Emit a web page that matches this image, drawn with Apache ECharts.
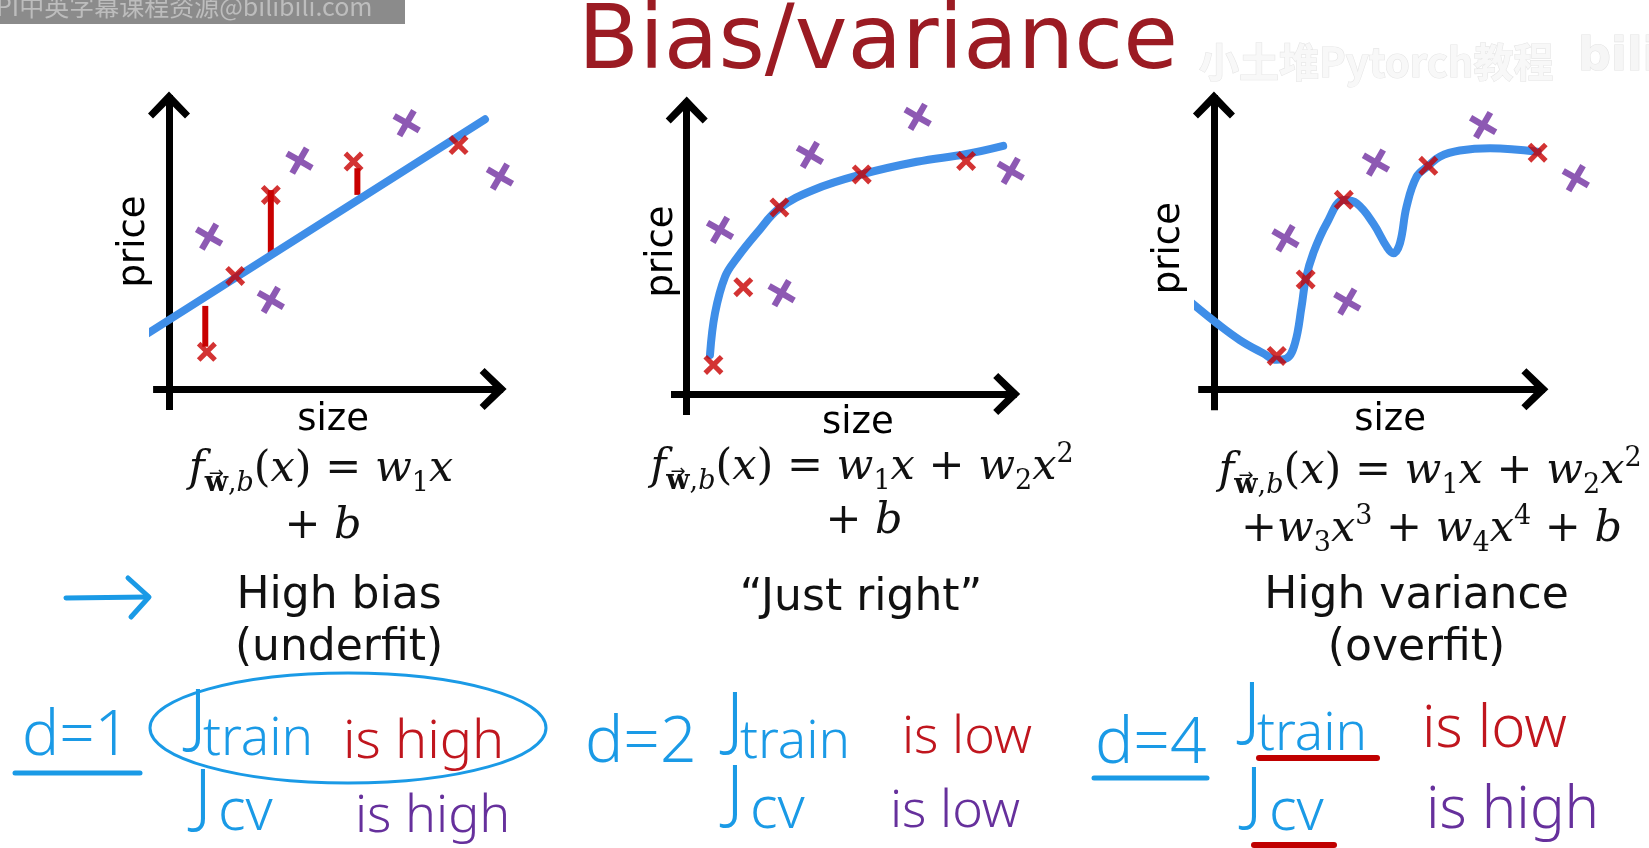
<!DOCTYPE html>
<html><head><meta charset="utf-8">
<script src="https://cdn.jsdelivr.net/npm/echarts@6/dist/echarts.min.js"></script>
<style>html,body{margin:0;padding:0;background:#fff}#c{width:1649px;height:848px}</style>
</head><body><div id="c"></div>
<script>
// ---------------- data (arbitrary units: size / price) ----------------
const p1Train = [[1.19,1.24],[2.08,3.77],[3.2,6.47],[5.8,7.58],[9.1,8.13]];
const p1Cv    = [[1.26,5.08],[3.2,2.97],[4.1,7.61],[7.47,8.86],[10.4,7.08]];
const p1Fit   = [[-0.91,1.69],[9.93,8.99]];
const p1Residuals = [[1.14,2.77,1.41],[3.2,6.63,4.47],[5.92,7.36,6.47]]; // [size, from, to]

const p2Train = [[0.85,0.97],[1.8,3.56],[2.95,6.22],[5.57,7.32],[8.89,7.77]];
const p2Cv    = [[1.06,5.47],[3.02,3.36],[3.92,7.97],[7.35,9.24],[10.31,7.44]];
const p2Fit   = [[0.74,1.3],[0.9,2.69],[1.22,3.91],[1.59,4.52],[2.23,5.36],[2.95,6.19],[4.03,6.8],[5.57,7.32],[7.32,7.74],[8.91,8.0],[10.07,8.27]];

const p3Train = [[1.99,1.11],[2.91,3.66],[4.12,6.31],[6.8,7.44],[10.27,7.88]];
const p3Cv    = [[2.27,5.03],[4.23,2.92],[5.14,7.55],[8.54,8.8],[11.48,7.03]];
const p3Fit   = [[-0.71,2.88],[0.09,2.2],[0.82,1.64],[1.56,1.2],[1.99,0.98],[2.31,1.03],[2.57,1.53],[2.78,2.75],[2.91,3.66],[3.15,4.53],[3.58,5.53],[4.12,6.3],[4.53,6.19],[5.05,5.53],[5.48,4.75],[5.69,4.53],[5.9,4.86],[6.11,6.08],[6.43,7.08],[6.8,7.44],[7.17,7.75],[7.8,7.95],[8.76,8.03],[10.27,7.91]];

const axisRangeX = [-0.5, 10.5];
const axisRangeY = [-0.7, 9.8];

const titleText = 'Bias/variance';
const xName = 'size', yName = 'price';
const captions = [['High bias','(underfit)'],['\u201CJust right\u201D'],['High variance','(overfit)']];
const fHead = [['i','f'],['vb','w'],['sv',','],['si','b'],['n','('],['i','x'],['n',') = '],['i','w'],['sv','1'],['i','x']];
const fSq = [['n',' + '],['i','w'],['sv','2'],['i','x'],['sp','2']];
const formulas = [
  [fHead, [['n','+ '],['i','b']]],
  [fHead.concat(fSq), [['n','+ '],['i','b']]],
  [fHead.concat(fSq), [['n','+'],['i','w'],['sv','3'],['i','x'],['sp','3'],['n',' + '],['i','w'],['sv','4'],['i','x'],['sp','4'],['n',' + '],['i','b']]]
];
const notes = [
  {d:'d=1', train:'is high', cv:'is high'},
  {d:'d=2', train:'is low',  cv:'is low'},
  {d:'d=4', train:'is low',  cv:'is high'}
];

// ---------------- styles / layout ----------------
const FONT_SANS = '"DejaVu Sans", Verdana, sans-serif';
const FONT_MATH = '"DejaVu Serif", serif';
const FONT_HAND = '"Noto Sans", sans-serif';
const FIT_BLUE = '#3f8ee8', MARK_RED = '#c80000', MARK_PURPLE = '#7030a0';
const INK_BLUE = '#1a9ae6', INK_RED = '#c0161e', INK_PURPLE = '#66309c';
const X_PATH = 'path://M0,1.8L1.8,0L5,3.2L8.2,0L10,1.8L6.8,5L10,8.2L8.2,10L5,6.8L1.8,10L0,8.2L3.2,5Z';
const ARROW_PATH = 'path://M21,0L42,22L37,27L21,11L5,27L0,22Z';

const panels = [
  {grid:{left:153.1, top:95, width:350, height:315}, xPad:10, xGap:-8, yPad:22, yGap:0, train:p1Train, cv:p1Cv, fit:p1Fit, smooth:false, residuals:p1Residuals},
  {grid:{left:671, top:100, width:345.7, height:315}, xPad:28, xGap:-10, yPad:12, yGap:-10, train:p2Train, cv:p2Cv, fit:p2Fit, smooth:0.4},
  {grid:{left:1198.2, top:95, width:346.7, height:315.3}, xPad:37, xGap:-8, yPad:9, yGap:10, train:p3Train, cv:p3Cv, fit:p3Fit, smooth:0.4}
];

const axisLine = {
  show:true, onZero:true,
  symbol:['none', ARROW_PATH], symbolSize:[42,27], symbolOffset:[0,-10],
  lineStyle:{color:'#000', width:7, cap:'butt'}
};
const nameStyle = pad => ({fontFamily:FONT_SANS, fontSize:37, color:'#000', padding:[0,0,0,pad]});

const grids = [], xAxes = [], yAxes = [], series = [];
panels.forEach((p, i) => {
  grids.push(Object.assign({containLabel:false}, p.grid));
  xAxes.push({type:'value', gridIndex:i, min:axisRangeX[0], max:axisRangeX[1],
    axisLine, axisTick:{show:false}, axisLabel:{show:false}, splitLine:{show:false},
    name:xName, nameLocation:'middle', nameGap:p.xGap, nameTextStyle:nameStyle(p.xPad)});
  yAxes.push({type:'value', gridIndex:i, min:axisRangeY[0], max:axisRangeY[1],
    axisLine, axisTick:{show:false}, axisLabel:{show:false}, splitLine:{show:false},
    name:yName, nameLocation:'middle', nameGap:p.yGap, nameTextStyle:nameStyle(p.yPad)});
  (p.residuals || []).forEach(r => {
    series.push({type:'line', xAxisIndex:i, yAxisIndex:i, data:[[r[0], r[1]],[r[0], r[2]]],
      symbol:'none', clip:false, silent:true, z:2,
      lineStyle:{color:MARK_RED, width:6, cap:'butt'}});
  });
  series.push({type:'line', xAxisIndex:i, yAxisIndex:i, data:p.fit, smooth:p.smooth,
    symbol:'none', clip:false, silent:true, z:3,
    lineStyle:{color:FIT_BLUE, width:8, cap:'round', join:'round'}});
  series.push({type:'scatter', xAxisIndex:i, yAxisIndex:i, data:p.train, symbol:X_PATH,
    symbolSize:20, clip:false, silent:true, z:4, itemStyle:{color:MARK_RED}});
  series.push({type:'scatter', xAxisIndex:i, yAxisIndex:i, data:p.cv, symbol:X_PATH,
    symbolSize:25, symbolRotate:15, clip:false, silent:true, z:4, itemStyle:{color:MARK_PURPLE}});
});

function txt(text, x, y, font, fill, align) {
  return {type:'text', x, y, silent:true, z:10,
    style:{text, font, fill, align:align||'center', textAlign:align||'center', verticalAlign:'middle', textVerticalAlign:'middle'}};
}
function hand(text, left, baseline, size, fill) {
  return txt(text, left, baseline - 0.285*size, '300 ' + size + 'px ' + FONT_HAND, fill, 'left');
}
const MS = 43, SS = 27;
const mathBase = {fontFamily:FONT_MATH, fill:'#111', color:'#111'};
const rich = {
  n:  Object.assign({fontSize:MS, lineHeight:54, verticalAlign:'middle'}, mathBase),
  i:  Object.assign({fontSize:MS, lineHeight:54, verticalAlign:'middle', fontStyle:'italic'}, mathBase),
  vb: Object.assign({fontSize:SS, lineHeight:26, verticalAlign:'bottom', fontWeight:'bold'}, mathBase),
  sv: Object.assign({fontSize:SS, lineHeight:26, verticalAlign:'bottom'}, mathBase),
  si: Object.assign({fontSize:SS, lineHeight:26, verticalAlign:'bottom', fontStyle:'italic'}, mathBase),
  sp: Object.assign({fontSize:SS, lineHeight:33, verticalAlign:'top'}, mathBase)
};
const mctx = document.createElement('canvas').getContext('2d');
function tokFont(st) {
  return (st.fontStyle || 'normal') + ' ' + (st.fontWeight || 'normal') + ' ' + st.fontSize + 'px ' + st.fontFamily;
}
function mathLine(tokens, cx, cy, out) {
  const text = tokens.map(t => '{' + t[0] + '|' + t[1] + '}').join('');
  out.push({type:'text', x:cx, y:cy, silent:true, z:10,
    style:{text, rich, font:MS + 'px ' + FONT_MATH, fill:'#111', align:'center', textAlign:'center', verticalAlign:'middle', textVerticalAlign:'middle'}});
  // measure to place the vector arrow over the subscript w
  let x = 0; const pos = [];
  tokens.forEach(t => { mctx.font = tokFont(rich[t[0]]); const w = mctx.measureText(t[1]).width; pos.push([x, w]); x += w; });
  tokens.forEach((t, k) => {
    if (t[0] === 'vb') {
      const ax = cx - x / 2 + pos[k][0] + pos[k][1] / 2;
      out.push(txt('\u2192', ax, cy + 4, '18px "DejaVu Sans"', '#111'));
    }
  });
}
function seg(x1, y1, x2, y2, color, w) {
  return {type:'line', silent:true, z:9, shape:{x1, y1, x2, y2}, style:{stroke:color, lineWidth:w, lineCap:'round'}};
}

const capFont = '44px ' + FONT_SANS;
const formulaPos = [[[321,470.2],[323,527.2]], [[862,468.2],[864,522.2]], [[1430,472.2],[1431.5,530.2]]];
const capPos = [[[339,597],[339,648.7]], [[861,598.7]], [[1416.5,597],[1416.5,648.7]]];
const notePos = [
  {d:[22,755,62], J1:[189,739], tr:[203,755,53], is1:[343,758,54], J2:[194,819], cv:[218,830,58], is2:[355,832,52]},
  {d:[585,762,64], J1:[726,742], tr:[740,758,53], is1:[902,753,52], J2:[726,815], cv:[750,828,58], is2:[890,827,52]},
  {d:[1095,763,64], J1:[1243,732], tr:[1257,750,53], is1:[1422,747,58], J2:[1245,817], cv:[1269,830,58], is2:[1426,828,58]}
];

const graphic = [
  {type:'rect', silent:true, shape:{x:0, y:0, width:405, height:24}, style:{fill:'#8b8b8b'}},
  txt('PI中英字幕课程资源@bilibili.com', -4, 6, '25px "Noto Sans CJK SC"', '#bdbdbd', 'left'),
  {type:'text', x:1199, y:62, silent:true, style:{text:'小土堆Pytorch教程', font:'bold 40px "Noto Sans CJK SC"', fill:'#f8f8f8', stroke:'#e6e6e6', lineWidth:1.2, align:'left', textAlign:'left', verticalAlign:'middle', textVerticalAlign:'middle'}},
  {type:'text', x:1578, y:58, silent:true, style:{text:'bili', font:'bold 46px "DejaVu Sans"', fill:'#f6f6f6', stroke:'#e4e4e4', lineWidth:1.2, align:'left', textAlign:'left', verticalAlign:'middle', textVerticalAlign:'middle'}},
  txt(titleText, 878, 45.3, '89px ' + FONT_SANS, '#9b1b23'),
];
formulas.forEach((lines, i) => lines.forEach((l, j) => mathLine(l, formulaPos[i][j][0], formulaPos[i][j][1], graphic)));
captions.forEach((lines, i) => lines.forEach((l, j) => graphic.push(txt(l, capPos[i][j][0], capPos[i][j][1], capFont, '#111'))));
notes.forEach((n, i) => {
  const q = notePos[i];
  graphic.push(hand(n.d, q.d[0], q.d[1], q.d[2], INK_BLUE));
  graphic.push(hand('J', q.J1[0], q.J1[1], 70, INK_BLUE));
  graphic.push(hand('train', q.tr[0], q.tr[1], q.tr[2], INK_BLUE));
  graphic.push(hand(n.train, q.is1[0], q.is1[1], q.is1[2], INK_RED));
  graphic.push(hand('J', q.J2[0], q.J2[1], 70, INK_BLUE));
  graphic.push(hand('cv', q.cv[0], q.cv[1], q.cv[2], INK_BLUE));
  graphic.push(hand(n.cv, q.is2[0], q.is2[1], q.is2[2], INK_PURPLE));
});
// hand-drawn marks
graphic.push(seg(15,773,140,773, INK_BLUE, 5));
graphic.push(seg(1094,778,1207,778, INK_BLUE, 5));
graphic.push(seg(1259,758,1377,758, '#c00000', 6));
graphic.push(seg(1254,845,1334,845, '#c00000', 6));
graphic.push({type:'ellipse', silent:true, z:9, shape:{cx:348, cy:728, rx:198, ry:55}, style:{fill:'none', stroke:INK_BLUE, lineWidth:3}});
graphic.push({type:'polyline', silent:true, z:9, shape:{points:[[66,598],[148,597]]}, style:{fill:'none', stroke:INK_BLUE, lineWidth:5, lineCap:'round'}});
graphic.push({type:'polyline', silent:true, z:9, shape:{points:[[128,578],[149,597],[131,617]]}, style:{fill:'none', stroke:INK_BLUE, lineWidth:5, lineCap:'round', lineJoin:'round'}});

const chart = echarts.init(document.getElementById('c'), null, {renderer:'canvas', width:1649, height:848});
chart.setOption({
  backgroundColor:'#ffffff',
  animation:false,
  grid:grids, xAxis:xAxes, yAxis:yAxes, series, graphic
});
</script></body></html>
